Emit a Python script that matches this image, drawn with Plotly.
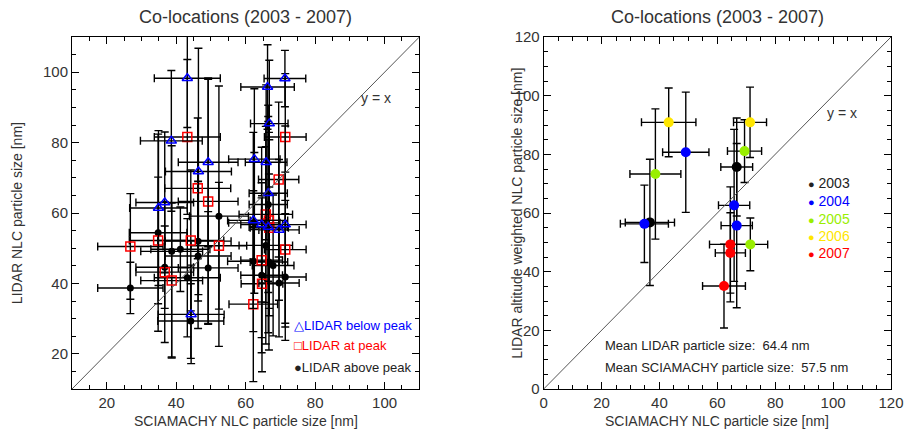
import plotly.graph_objects as go

# ---------------- Left panel data ----------------
below_x = [43.2, 38.6, 46.4, 49.2, 71.3, 66.3, 66.8, 62.5, 65.9, 66.5, 34.9, 36.7, 44.3, 62.2, 64.6, 66.5, 69.6, 71.4]
below_y = [98.3, 80.5, 71.8, 74.4, 98.2, 95.8, 85.4, 75.3, 74.4, 65.6, 61.4, 63.0, 31.2, 57.9, 56.7, 56.0, 55.2, 56.7]
below_xerr = [9.5, 8.9, 9.5, 8.6, 6.0, 7.7, 5.4, 7.4, 6.0, 5.5, 8.3, 8.3, 9.5, 7.4, 6.0, 5.5, 5.8, 6.0]
below_yerr = [14, 20, 35, 24, 8, 12, 18, 20, 22, 25, 22, 20, 14, 25, 22, 30, 20, 28]

at_x = [43.2, 46.2, 49.2, 71.4, 69.5, 26.8, 34.8, 44.2, 36.7, 38.7, 52.3, 65.8, 66.7, 66.8, 71.4, 64.6, 64.7, 62.2]
at_y = [81.6, 67.0, 63.3, 81.6, 69.5, 50.5, 52.2, 52.2, 43.2, 40.8, 50.7, 59.6, 57.9, 55.8, 49.6, 46.6, 39.9, 34.1]
at_xerr = [9.5, 9.5, 8.6, 6.0, 5.8, 9.4, 8.3, 9.5, 8.3, 8.9, 8.0, 7.7, 5.4, 5.5, 6.0, 6.0, 6.0, 7.0]
at_yerr = [22, 20, 34.7, 18, 22, 15, 18, 20, 20, 22, 18, 25, 25, 25, 22, 22, 25, 22]

above_x = [26.8, 34.8, 38.7, 41.2, 46.3, 46.3, 36.7, 43.2, 49.2, 52.3, 44.2, 62.5, 66.5, 65.8, 62.2, 66.7, 64.6, 69.6, 71.4, 67.9]
above_y = [38.7, 54.4, 49.1, 49.7, 52.0, 47.8, 44.6, 41.6, 44.4, 59.1, 29.3, 57.2, 62.4, 50.8, 46.3, 46.1, 42.3, 40.1, 41.8, 45.1]
above_xerr = [9.4, 8.3, 8.9, 8.5, 9.5, 9.5, 8.3, 9.5, 8.6, 8.5, 9.5, 7.4, 5.5, 7.7, 7.4, 5.4, 6.0, 5.8, 6.0, 6.0]
above_yerr = [7.3, 28, 30, 12, 17, 20.6, 11.7, 16.8, 16, 37, 10.6, 20, 25, 28, 20, 25, 22, 15.3, 18, 20]

# ---------------- Right panel data ----------------
years = ["2003", "2004", "2005", "2006", "2007"]
year_colors = ["#000000", "#0000ff", "#99ee00", "#ffe600", "#ff0000"]
r_year = ["2006", "2004", "2005", "2003", "2004", "2006", "2005", "2003", "2004", "2004", "2007", "2005", "2007", "2007"]
r_x = [43.2, 49.1, 38.6, 36.7, 34.8, 71.3, 69.4, 66.7, 65.8, 66.7, 64.5, 71.4, 64.5, 62.3]
r_y = [90.9, 80.7, 73.3, 56.8, 56.3, 90.9, 81.1, 75.7, 62.6, 55.7, 49.3, 49.3, 46.4, 35.1]
r_xerr = [9.4, 8.0, 8.8, 8.5, 8.3, 5.7, 5.9, 5.5, 5.4, 5.4, 7.2, 6.0, 5.2, 7.4]
r_yerr = [11.7, 20.5, 22.2, 21.5, 13.2, 12.0, 10.7, 16.7, 25.9, 28.0, 19.6, 9.0, 13.7, 14.3]

mean_lidar = 64.4
mean_sciamachy = 57.5

FONT = "Liberation Sans, Arial, Helvetica, sans-serif"
TXT = "#333333"

fig = go.Figure()

def eb(arr):
    return dict(type="data", array=arr, symmetric=True, color="black", thickness=1.4, width=4)

fig.add_trace(go.Scatter(x=above_x, y=above_y, mode="markers", xaxis="x", yaxis="y",
                         error_x=eb(above_xerr), error_y=eb(above_yerr),
                         marker=dict(symbol="circle", color="black", size=7),
                         showlegend=False))
fig.add_trace(go.Scatter(x=at_x, y=at_y, mode="markers", xaxis="x", yaxis="y",
                         error_x=eb(at_xerr), error_y=eb(at_yerr),
                         marker=dict(symbol="square-open", color="#ff0000", size=9, line=dict(width=1.5)),
                         showlegend=False))
fig.add_trace(go.Scatter(x=below_x, y=below_y, mode="markers", xaxis="x", yaxis="y",
                         error_x=eb(below_xerr), error_y=eb(below_yerr),
                         marker=dict(symbol="triangle-up-open", color="#0000ff", size=9, line=dict(width=1.5)),
                         showlegend=False))

cmap = dict(zip(years, year_colors))
fig.add_trace(go.Scatter(x=r_x, y=r_y, mode="markers", xaxis="x2", yaxis="y2",
                         error_x=eb(r_xerr), error_y=eb(r_yerr),
                         marker=dict(symbol="circle", color=[cmap[y] for y in r_year], size=10),
                         showlegend=False))

# diagonal y = x lines
fig.add_shape(type="line", xref="x", yref="y", x0=10, y0=10, x1=110, y1=110,
              line=dict(color="#555555", width=1))
fig.add_shape(type="line", xref="x2", yref="y2", x0=0, y0=0, x1=120, y1=120,
              line=dict(color="#555555", width=1))

axis_common = dict(showline=True, linecolor="black", linewidth=1, mirror="allticks",
                   ticks="inside", ticklen=7, tickcolor="black", tickwidth=1,
                   showgrid=False, zeroline=False,
                   tickfont=dict(family=FONT, size=15, color=TXT),
                   minor=dict(ticks="inside", ticklen=4, dtick=5, tickcolor="black", showgrid=False))

fig.update_layout(
    width=908, height=434,
    margin=dict(l=64, r=14, t=29, b=53),
    paper_bgcolor="white", plot_bgcolor="white",
    font=dict(family=FONT, color=TXT),
    xaxis=dict(domain=[0, 0.4241], range=[10, 110], tick0=0, dtick=20, anchor="y", **axis_common),
    yaxis=dict(domain=[0, 1], range=[10, 110], tick0=0, dtick=20, anchor="x", **axis_common),
    xaxis2=dict(domain=[0.5759, 1], range=[0, 120], tick0=0, dtick=20, anchor="y2", **axis_common),
    yaxis2=dict(domain=[0, 1], range=[0, 120], tick0=0, dtick=20, anchor="x2", **axis_common),
)

ann = []
title = "Co-locations (2003 - 2007)"
ann.append(dict(text=title, xref="paper", yref="paper", x=0.4241 / 2, y=1.057, showarrow=False,
                xanchor="center", yanchor="middle", font=dict(size=18, color=TXT)))
ann.append(dict(text=title, xref="paper", yref="paper", x=(0.5759 + 1) / 2, y=1.057, showarrow=False,
                xanchor="center", yanchor="middle", font=dict(size=18, color=TXT)))
ann.append(dict(text="SCIAMACHY NLC particle size [nm]", xref="paper", yref="paper", x=0.4241 / 2, y=-0.092,
                showarrow=False, xanchor="center", yanchor="middle", font=dict(size=14, color=TXT)))
ann.append(dict(text="SCIAMACHY NLC particle size [nm]", xref="paper", yref="paper", x=(0.5759 + 1) / 2, y=-0.092,
                showarrow=False, xanchor="center", yanchor="middle", font=dict(size=14, color=TXT)))
ann.append(dict(text="LIDAR NLC particle size [nm]", xref="paper", yref="paper", x=-0.067, y=0.5,
                textangle=-90, showarrow=False, xanchor="center", yanchor="middle", font=dict(size=14, color=TXT)))
ann.append(dict(text="LIDAR altitude weighted NLC particle size [nm]", xref="paper", yref="paper", x=0.543, y=0.5,
                textangle=-90, showarrow=False, xanchor="center", yanchor="middle", font=dict(size=14, color=TXT)))
ann.append(dict(text="y = x", xref="x", yref="y", x=97.5, y=92.7, showarrow=False,
                xanchor="center", yanchor="middle", font=dict(size=14, color=TXT)))
ann.append(dict(text="y = x", xref="x2", yref="y2", x=103.1, y=94.1, showarrow=False,
                xanchor="center", yanchor="middle", font=dict(size=14, color=TXT)))

# left legend
for txt, col, yy in [("△LIDAR below peak", "#0000ff", 28.1),
                     ("□LIDAR at peak", "#ff0000", 22.4),
                     ("●LIDAR above peak", "#222222", 16.2)]:
    ann.append(dict(text=txt, xref="x", yref="y", x=73.4, y=yy, showarrow=False,
                    xanchor="left", yanchor="middle", font=dict(size=13, color=col)))

# right legend
leg_y = [70.2, 64.1, 58.0, 52.2, 46.4]
for yr, col, yy in zip(years, year_colors, leg_y):
    ann.append(dict(text="<span style='font-size:11px'>●</span> " + yr, xref="x2", yref="y2", x=90.6, y=yy,
                    showarrow=False, xanchor="left", yanchor="middle",
                    font=dict(size=14, color=col if yr != "2003" else "#222222")))

ann.append(dict(text=f"Mean LIDAR particle size:  {mean_lidar} nm", xref="x2", yref="y2", x=20.5, y=15.0,
                showarrow=False, xanchor="left", yanchor="middle", font=dict(size=13, color="#222222")))
ann.append(dict(text=f"Mean SCIAMACHY particle size:  {mean_sciamachy} nm", xref="x2", yref="y2", x=20.5, y=7.2,
                showarrow=False, xanchor="left", yanchor="middle", font=dict(size=13, color="#222222")))

fig.update_layout(annotations=ann)
fig.write_html("out.html")
